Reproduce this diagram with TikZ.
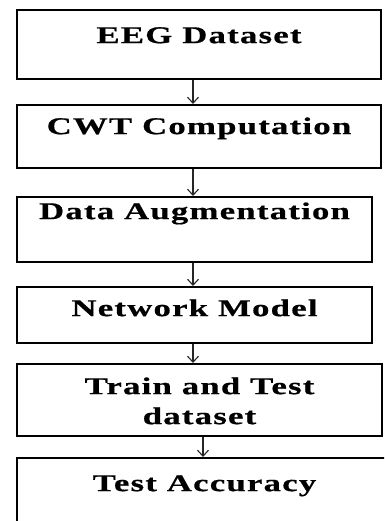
\documentclass[tikz,border=0pt]{standalone}
\usepackage{fontspec}
\setmainfont{Liberation Serif}
\newfontfamily\stagefont[FakeStretch=1.45,LetterSpace=5,FakeBold=0.6]{Liberation Serif Bold}
\usetikzlibrary{arrows.meta}
\tikzset{
  stage/.style={draw=black, line width=2.2pt, anchor=north, inner sep=0pt, align=center,
                font=\stagefont\fontsize{24}{30}\selectfont},
  flow/.style={-{Straight Barb[length=6pt,width=11pt]}, line width=1.1pt, color=black!85},
}
\begin{document}
\begin{tikzpicture}[x=1pt,y=-1pt]
\clip (0,0) rectangle (384,521);
\node[stage, minimum width=364pt, text height=33pt, text depth=36pt] (eeg) at (199,9) {EEG Dataset};
\node[stage, minimum width=364pt, text height=29pt, text depth=34pt] (cwt) at (199,104) {CWT Computation};
\node[stage, minimum width=355pt, text height=22pt, text depth=43pt] (aug) at (194.5,196) {Data Augmentation};
\node[stage, minimum width=355pt, text height=29pt, text depth=27pt] (net) at (194.5,286) {Network Model};
\node[stage, minimum width=365pt, text height=60pt, text depth=12pt] (split) at (199.5,363) {Train and Test\\dataset};
\node[stage, minimum width=375pt, text height=33pt, text depth=50pt] (acc) at (204.5,457) {Test Accuracy};
\coordinate (ax) at (193,0);\coordinate (bx) at (203,0);
\draw[flow] (eeg.south -| ax)--(cwt.north -| ax);
\draw[flow] (cwt.south -| ax)--(aug.north -| ax);
\draw[flow] (aug.south -| ax)--(net.north -| ax);
\draw[flow] (net.south -| ax)--(split.north -| ax);
\draw[flow] (split.south -| bx)--(acc.north -| bx);
\end{tikzpicture}
\end{document}
